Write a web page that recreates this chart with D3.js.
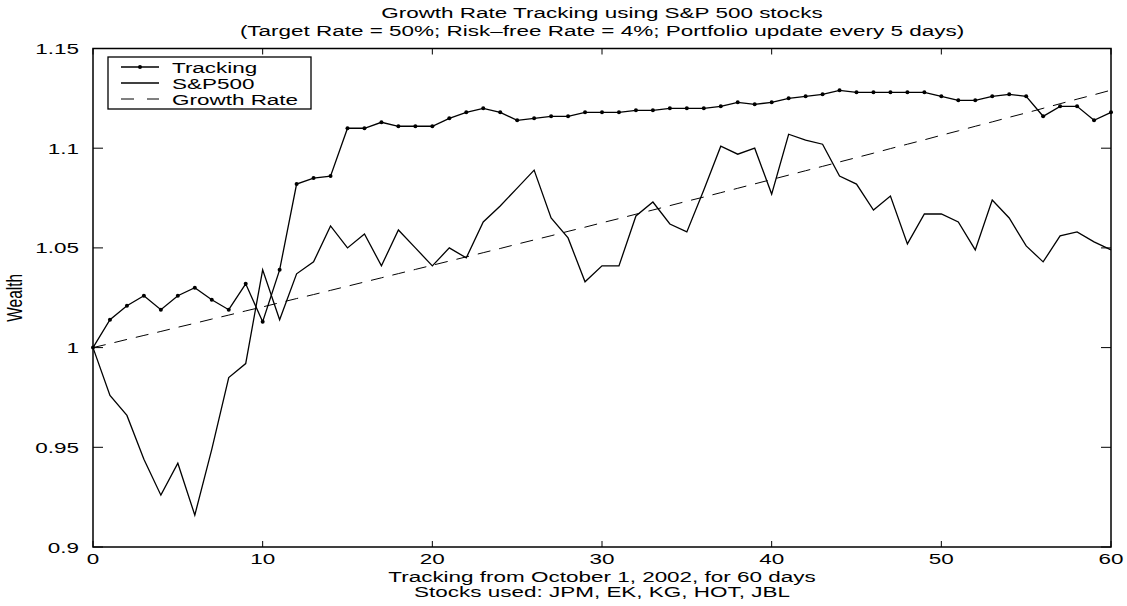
<!DOCTYPE html>
<html>
<head>
<meta charset="utf-8">
<script src="https://cdn.jsdelivr.net/npm/d3@7/dist/d3.min.js"></script>
<style>
  body { margin: 0; background: #fff; }
  text { font-family: "Liberation Sans", Arial, Helvetica, sans-serif; fill: #000; }
</style>
</head>
<body>
<div id="chart"></div>
<script>
// values, one per trading day (0..60)
const tracking = [1.000,1.014,1.021,1.026,1.019,1.026,1.030,1.024,1.019,1.032,1.013,1.039,1.082,1.085,1.086,1.110,1.110,1.113,1.111,1.111,
  1.111,1.115,1.118,1.120,1.118,1.114,1.115,1.116,1.116,1.118,1.118,1.118,1.119,1.119,1.120,1.120,1.120,1.121,1.123,1.122,
  1.123,1.125,1.126,1.127,1.129,1.128,1.128,1.128,1.128,1.128,1.126,1.124,1.124,1.126,1.127,1.126,1.116,1.121,1.121,1.114,1.118]
const sp500 = [1.000,0.976,0.966,0.944,0.926,0.942,0.916,0.949,0.985,0.992,1.039,1.014,1.037,1.043,1.061,1.050,1.057,1.041,1.059,1.050,
  1.041,1.050,1.045,1.063,1.071,1.080,1.089,1.065,1.055,1.033,1.041,1.041,1.066,1.073,1.062,1.058,1.079,1.101,1.097,1.100,
  1.077,1.107,1.104,1.102,1.086,1.082,1.069,1.076,1.052,1.067,1.067,1.063,1.049,1.074,1.065,1.051,1.043,1.056,1.058,1.053,1.049]
const growth = [1.0000,1.0020,1.0041,1.0061,1.0081,1.0102,1.0122,1.0143,1.0163,1.0184,1.0204,1.0225,1.0246,1.0266,1.0287,1.0308,1.0329,1.0350,1.0371,1.0392,
  1.0413,1.0434,1.0455,1.0476,1.0497,1.0519,1.0540,1.0561,1.0583,1.0604,1.0626,1.0647,1.0669,1.0690,1.0712,1.0734,1.0755,1.0777,1.0799,1.0821,
  1.0843,1.0865,1.0887,1.0909,1.0931,1.0953,1.0975,1.0998,1.1020,1.1042,1.1065,1.1087,1.1110,1.1132,1.1155,1.1177,1.1200,1.1223,1.1246,1.1268,1.1291]

const xTicks = [0, 10, 20, 30, 40, 50, 60]
const yTicks = [0.9, 0.95, 1, 1.05, 1.1, 1.15]
const seriesNames = ['Tracking', 'S&P500', 'Growth Rate']
const titleLines = ['Growth Rate Tracking using S&P 500 stocks',
  '(Target Rate = 50%; Risk\u2013free Rate = 4%; Portfolio update every 5 days)']
const xLabelLines = ['Tracking from October 1, 2002, for 60 days', 'Stocks used: JPM, EK, KG, HOT, JBL']
const yLabel = 'Wealth'

const W = 1127, H = 606
const m = { top: 48.5, right: 16, bottom: 59, left: 93 }
const FS = 15.5   // font size
const SX = 1.45   // text is stretched sideways in the reference

const svg = d3.select('#chart').append('svg')
  .attr('width', W).attr('height', H)
  .attr('viewBox', [0, 0, W, H])

const x = d3.scaleLinear().domain([0, 60]).range([m.left, W - m.right])
const y = d3.scaleLinear().domain([0.9, 1.15]).range([H - m.bottom, m.top])

// stretched text helper
const label = (px, py, str, anchor, rot) => {
  const g = svg.append('g').attr('transform', `translate(${px},${py})` + (rot ? ' rotate(-90)' : ''))
  g.append('text')
    .attr('transform', rot ? `scale(1,${SX})` : `scale(${SX},1)`)
    .attr('text-anchor', anchor)
    .attr('font-size', FS)
    .text(str)
  return g
}

// ticks, drawn inward on all four sides
const tg = svg.append('g').attr('stroke', '#000').attr('stroke-width', 1)
xTicks.forEach(t => {
  tg.append('line').attr('x1', x(t)).attr('x2', x(t)).attr('y1', y(0.9)).attr('y2', y(0.9) - 6)
  tg.append('line').attr('x1', x(t)).attr('x2', x(t)).attr('y1', y(1.15)).attr('y2', y(1.15) + 6)
})
yTicks.forEach(t => {
  tg.append('line').attr('x1', x(0)).attr('x2', x(0) + 10).attr('y1', y(t)).attr('y2', y(t))
  tg.append('line').attr('x1', x(60)).attr('x2', x(60) - 10).attr('y1', y(t)).attr('y2', y(t))
})

// lines
const line = d3.line().x((d, i) => x(i)).y(d => y(d))
svg.append('path').datum(growth).attr('d', line)
  .attr('fill', 'none').attr('stroke', '#000').attr('stroke-width', 1)
  .attr('stroke-dasharray', '13,9')
svg.append('path').datum(sp500).attr('d', line)
  .attr('fill', 'none').attr('stroke', '#000').attr('stroke-width', 1.3)
svg.append('path').datum(tracking).attr('d', line)
  .attr('fill', 'none').attr('stroke', '#000').attr('stroke-width', 1.3)
svg.append('g').selectAll('circle').data(tracking).join('circle')
  .attr('cx', (d, i) => x(i)).attr('cy', d => y(d)).attr('r', 2).attr('fill', '#000')

// axes box
svg.append('rect')
  .attr('x', x(0)).attr('y', y(1.15))
  .attr('width', x(60) - x(0)).attr('height', y(0.9) - y(1.15))
  .attr('fill', 'none').attr('stroke', '#000').attr('stroke-width', 1.5)

// tick labels
yTicks.forEach(t => label(x(0) - 14, y(t) + 5.5, String(t), 'end'))
xTicks.forEach(t => label(x(t), y(0.9) + 17, String(t), 'middle'))

// titles and axis labels
const cx = (x(0) + x(60)) / 2
label(cx, 18, titleLines[0], 'middle')
label(cx, 36, titleLines[1], 'middle')
label(cx, 582, xLabelLines[0], 'middle')
label(cx, 597, xLabelLines[1], 'middle')
label(22, (y(0.9) + y(1.15)) / 2, yLabel, 'middle', true)

// legend
const lg = svg.append('g').attr('transform', 'translate(108,57)')
lg.append('rect').attr('width', 203).attr('height', 52)
  .attr('fill', '#fff').attr('stroke', '#000').attr('stroke-width', 1.3)
seriesNames.forEach((name, i) => {
  const ry = 10 + i * 16
  const ln = lg.append('line').attr('x1', 13).attr('x2', 51).attr('y1', ry).attr('y2', ry)
    .attr('stroke', '#000').attr('stroke-width', i === 2 ? 1 : 1.3)
  if (i === 2) ln.attr('stroke-dasharray', '13,13')
  if (i === 0) lg.append('circle').attr('cx', 32).attr('cy', ry).attr('r', 2).attr('fill', '#000')
  const t = lg.append('g').attr('transform', `translate(64,${ry + 5.5})`)
  t.append('text').attr('transform', `scale(${SX},1)`).attr('font-size', FS).text(name)
})
</script>
</body>
</html>
